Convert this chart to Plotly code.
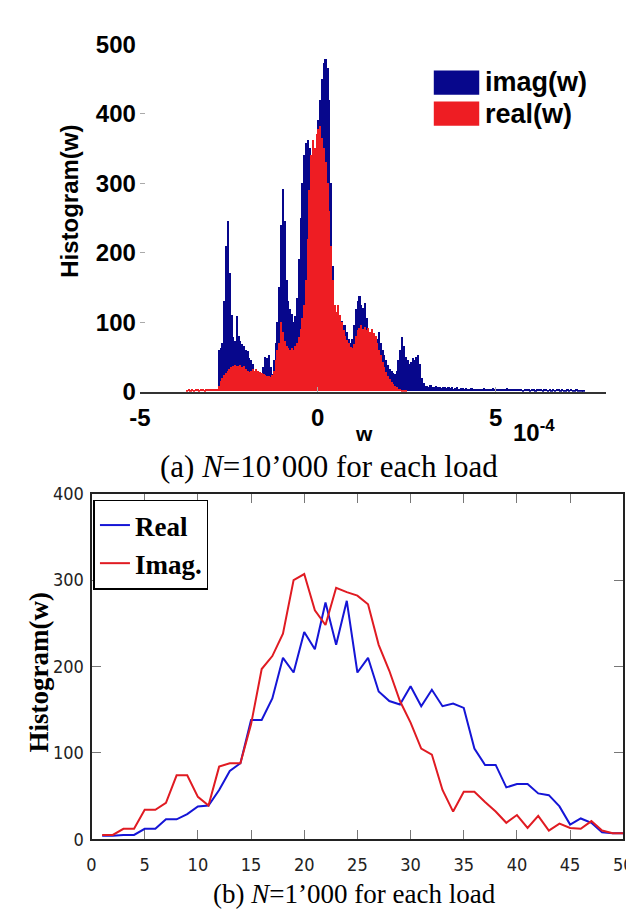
import plotly.graph_objects as go

W, H = 634, 917

# ---------------- (a) histogram, bins of 0.05 (x in units of 1e-4) ----------------
bin_start = -3.75
bin_width = 0.05

imag_counts = [
    0, 0, 0, 0, 0, 0, 0, 0, 0, 0,                 # -3.75 .. -3.30
    0, 0, 0, 0, 0, 0, 0, 0, 0, 60,                # -3.25 .. -2.80
    62, 70, 130, 210, 246, 170, 110, 78, 72, 108,  # -2.75 .. -2.30
    80, 72, 68, 65, 60, 58, 48, 45, 40, 30,        # -2.25 .. -1.80
    28, 25, 22, 23, 35, 50, 48, 52, 35, 25,        # -1.75 .. -1.30
    45, 70, 100, 150, 240, 292, 245, 160, 130, 118,  # -1.25 .. -0.80
    112, 100, 108, 135, 190, 250, 300, 340, 358, 362,  # -0.75 .. -0.30
    350, 340, 330, 350, 370, 390, 420, 450, 472, 479,  # -0.25 .. 0.20
    465, 420, 300, 180, 95, 90, 92, 105, 102, 96,  # 0.25 .. 0.70
    95, 85, 75, 70, 75, 95, 118, 130, 138, 125,    # 0.75 .. 1.20
    120, 127, 105, 90, 78, 75, 72, 70, 75, 85,     # 1.25 .. 1.70
    70, 60, 53, 45, 38, 32, 29, 27, 25, 30,        # 1.75 .. 2.20
    45, 60, 78, 65, 50, 45, 40, 42, 48, 45,        # 2.25 .. 2.70
    50, 53, 40, 20, 12, 8, 8, 7, 9, 6,             # 2.75 .. 3.20
    7, 8, 6, 7, 5, 6, 6, 5, 7, 5,                  # 3.25 .. 3.70
    6, 4, 5, 6, 4, 5, 5, 4, 5, 3,                  # 3.75 .. 4.20
    4, 5, 4, 3, 4, 4, 3, 4, 5, 4,                  # 4.25 .. 4.70
    3, 4, 3, 5, 4, 3, 3, 4, 3, 4,                  # 4.75 .. 5.20
    3, 5, 4, 3, 3, 4, 3, 3, 4, 3,                  # 5.25 .. 5.70
    2, 3, 4, 3, 2, 3, 3, 2, 3, 4,                  # 5.75 .. 6.20
    3, 2, 3, 3, 2, 4, 2, 3, 2, 3,                  # 6.25 .. 6.70
    4, 2, 3, 2, 2, 3, 2, 3, 2, 2,                  # 6.75 .. 7.20
    3, 2, 1, 2, 2, 0, 0, 0, 0, 0,                  # 7.25 .. 7.70
]

real_counts = [
    0, 2, 3, 2, 3, 2, 3, 3, 2, 3,                  # -3.75 .. -3.30
    3, 2, 3, 4, 3, 3, 4, 3, 4, 8,                  # -3.25 .. -2.80
    15, 20, 24, 27, 30, 32, 35, 37, 38, 36,        # -2.75 .. -2.30
    37, 38, 35, 36, 33, 30, 28, 30, 32, 30,        # -2.25 .. -1.80
    33, 30, 28, 26, 25, 24, 22, 22, 21, 23,        # -1.75 .. -1.30
    30, 45, 60, 70, 100, 85, 72, 65, 62, 60,       # -1.25 .. -0.80
    62, 60, 66, 70, 78, 90, 105, 125, 160, 220,    # -0.75 .. -0.30
    290, 340, 362, 350, 370, 378, 382, 365, 350, 330,  # -0.25 .. 0.20
    300, 260, 210, 160, 125, 115, 125, 110, 100, 88,   # 0.25 .. 0.70
    80, 74, 70, 64, 62, 68, 80, 88, 92, 95,        # 0.75 .. 1.20
    90, 93, 88, 92, 86, 90, 84, 80, 70, 60,        # 1.25 .. 1.70
    52, 42, 35, 28, 22, 18, 14, 11, 8, 6,          # 1.75 .. 2.20
    4, 3, 2, 2, 1, 0, 0, 0, 0, 0,                  # 2.25 .. 2.70
]

top_xticks = [-5, 0, 5]
top_yticks = [0, 100, 200, 300, 400, 500]

# ---------------- (b) histogram curves ----------------
load_index = list(range(1, 51))
real_hist = [4, 4, 5, 5, 12, 12, 23, 23, 29, 38,
             39, 57, 79, 88, 138, 138, 163, 210, 193, 240,
             220, 274, 225, 276, 193, 210, 171, 160, 156, 177,
             154, 173, 154, 157, 152, 105, 86, 86, 60, 64,
             64, 53, 51, 38, 17, 24, 19, 8, 7, 7]
imag_hist = [5, 5, 12, 12, 34, 34, 42, 74, 74, 49,
             39, 84, 88, 88, 133, 197, 212, 238, 300, 307,
             265, 248, 291, 286, 282, 272, 225, 195, 160, 135,
             105, 98, 57, 32, 55, 55, 43, 32, 19, 28,
             13, 27, 10, 18, 13, 12, 21, 10, 7, 7]
bot_xticks = list(range(0, 51, 5))
bot_yticks = [0, 100, 200, 300, 400]

# ---------------- styles ----------------
BLUE_A = '#07078c'
RED_A = '#ee1d23'
BLUE_B = '#1515d6'
RED_B = '#e01b22'
ARIAL = 'Liberation Sans, Arial, sans-serif'
TIMES = 'Liberation Serif, Times New Roman, serif'
NARROW = 'Liberation Sans Narrow, Arial Narrow, DejaVu Sans Condensed, sans-serif'


def px(p):
    return p / W


def py(p):
    return 1 - p / H


def centers(n):
    return [bin_start + bin_width * (i + 0.5) for i in range(n)]


fig = go.Figure()
fig.add_trace(go.Bar(x=centers(len(imag_counts)), y=imag_counts, width=bin_width,
                     marker=dict(color=BLUE_A, line=dict(width=0)), name='imag(w)',
                     showlegend=False, xaxis='x', yaxis='y'))
fig.add_trace(go.Bar(x=centers(len(real_counts)), y=real_counts, width=bin_width,
                     marker=dict(color=RED_A, line=dict(width=0)), name='real(w)',
                     showlegend=False, xaxis='x', yaxis='y'))

fig.add_trace(go.Scatter(x=load_index, y=real_hist, mode='lines', name='Real',
                         line=dict(color=BLUE_B, width=2), xaxis='x2', yaxis='y2'))
fig.add_trace(go.Scatter(x=load_index, y=imag_hist, mode='lines', name='Imag.',
                         line=dict(color=RED_B, width=2), xaxis='x2', yaxis='y2'))

tickfont_a = dict(family=ARIAL, size=24, color='black', weight='bold')
tickfont_b = dict(family=NARROW, size=18, color='#222')

fig.update_layout(
    width=W, height=H, autosize=False,
    margin=dict(l=0, r=0, t=0, b=0),
    paper_bgcolor='white', plot_bgcolor='white',
    barmode='overlay', bargap=0,
    xaxis=dict(domain=[px(125), px(607)], range=[-5, 8.1], anchor='y',
               tickvals=top_xticks, ticktext=[str(v) for v in top_xticks],
               ticks='inside', ticklen=5, tickcolor='#aaa',
               showline=True, linecolor='#333', linewidth=1.5, mirror=False,
               showgrid=False, zeroline=False, tickfont=tickfont_a,
               ticklabelstandoff=4),
    yaxis=dict(domain=[py(381), py(23)], range=[0, 500], anchor='x',
               tickvals=top_yticks, ticks='inside', ticklen=5, tickcolor='#aaa',
               showline=False, showgrid=False, zeroline=False, tickfont=tickfont_a,
               ticklabelstandoff=3),
    xaxis3=dict(overlaying='x', side='top', anchor='y', range=[-5, 8.1],
                tickvals=top_xticks, ticks='inside', ticklen=5, tickcolor='#aaa',
                showticklabels=False, showline=False, showgrid=False, zeroline=False),
    yaxis3=dict(overlaying='y', side='right', anchor='x', range=[0, 500],
                tickvals=top_yticks, ticks='inside', ticklen=5, tickcolor='#aaa',
                showticklabels=False, showline=False, showgrid=False, zeroline=False),
    xaxis2=dict(domain=[px(75), px(625)], range=[0, 50], anchor='y2',
                tickvals=bot_xticks, ticks='inside', ticklen=9, tickcolor='#777',
                showline=True, linecolor='#222', linewidth=2, mirror='ticks',
                showgrid=False, zeroline=False, tickfont=tickfont_b,
                ticklabelstandoff=8, ticklabeloverflow='allow'),
    yaxis2=dict(domain=[py(842), py(486)], range=[0, 400], anchor='x2',
                tickvals=bot_yticks, ticks='inside', ticklen=9, tickcolor='#777',
                showline=True, linecolor='#222', linewidth=2, mirror='ticks',
                showgrid=False, zeroline=False, tickfont=tickfont_b,
                ticklabelstandoff=2, ticklabeloverflow='allow'),
    showlegend=True,
    legend=dict(x=px(77), y=py(492), xanchor='left', yanchor='top',
                bgcolor='white', bordercolor='black', borderwidth=1.5,
                font=dict(family=TIMES, size=27, color='black', weight='bold'),
                itemwidth=30, tracegroupgap=0),
)

# manual legend for panel (a)
fig.add_shape(type='rect', xref='paper', yref='paper', x0=px(429), x1=px(476),
              y0=py(75), y1=py(50), fillcolor=BLUE_A, line=dict(width=0))
fig.add_shape(type='rect', xref='paper', yref='paper', x0=px(429), x1=px(476),
              y0=py(107), y1=py(82), fillcolor=RED_A, line=dict(width=0))

ann = [
    dict(text='imag(w)', x=px(480), y=py(62), xanchor='left', yanchor='middle',
         font=dict(family=ARIAL, size=27, color='black', weight='bold')),
    dict(text='real(w)', x=px(480), y=py(95), xanchor='left', yanchor='middle',
         font=dict(family=ARIAL, size=27, color='black', weight='bold')),
    dict(text='Histogram(w)', x=px(52), y=py(185), textangle=-90,
         xanchor='center', yanchor='middle',
         font=dict(family=ARIAL, size=24, color='black', weight='bold')),
    dict(text='w', x=px(357), y=py(424), xanchor='center', yanchor='middle',
         font=dict(family=ARIAL, size=21, color='black', weight='bold')),
    dict(text='10<sup>-4</sup>', x=px(509), y=py(421), xanchor='left', yanchor='middle',
         font=dict(family=ARIAL, size=24, color='black', weight='bold')),
    dict(text='(a) <i>N</i>=10\u2019000 for each load', x=px(321), y=py(458),
         xanchor='center', yanchor='middle',
         font=dict(family=TIMES, size=31, color='black')),
    dict(text='Histogram(w)', x=px(21), y=py(670), textangle=-90,
         xanchor='center', yanchor='middle',
         font=dict(family=TIMES, size=27, color='black', weight='bold')),
    dict(text='(b) <i>N</i>=1\u2019000 for each load', x=px(347), y=py(898),
         xanchor='center', yanchor='middle',
         font=dict(family=TIMES, size=27, color='black')),
]
for a in ann:
    fig.add_annotation(xref='paper', yref='paper', showarrow=False, **a)

fig.write_html('out.html')
